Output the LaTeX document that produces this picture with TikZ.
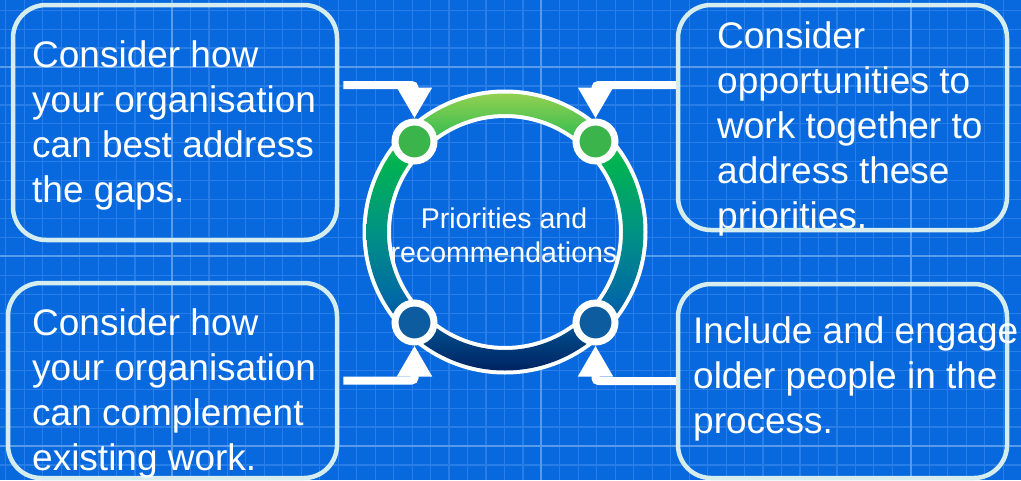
\documentclass[tikz,border=0pt]{standalone}
\usepackage{fontspec}
\setmainfont{Liberation Sans}
\usetikzlibrary{arrows.meta}

\definecolor{bgblue}{RGB}{8,104,221}
\definecolor{gridminor}{RGB}{40,126,230}
\definecolor{gridmajor}{RGB}{88,154,236}
\definecolor{boxline}{RGB}{214,237,240}
\definecolor{ringnavy}{RGB}{0,34,98}
\definecolor{ringblue}{RGB}{0,104,166}
\definecolor{ringteal}{RGB}{0,146,132}
\definecolor{ringgreen}{RGB}{0,178,82}
\definecolor{ringlight}{RGB}{146,208,80}
\definecolor{dotgreen}{RGB}{60,180,76}
\definecolor{dotblue}{RGB}{14,92,160}

\pgfdeclareverticalshading{ringshade}{100bp}{color(0bp)=(ringnavy); color(25bp)=(ringnavy); color(37.5bp)=(ringblue); color(50bp)=(ringteal); color(62.5bp)=(ringgreen); color(75bp)=(ringlight); color(100bp)=(ringlight)}

\begin{document}
\begin{tikzpicture}[x=1pt,y=-1pt,
  card/.style={draw=boxline, line width=4.5pt, rounded corners=33pt},
  cardtext/.style={text=white, font=\fontsize{37}{45}\selectfont, align=left, anchor=base west, inner sep=0pt},
  dot/.style={circle, draw=white, line width=7pt, minimum size=39pt, inner sep=0pt},
  conn/.style={draw=white, line width=8pt, rounded corners=3pt, -{Triangle[length=31pt,width=33pt]}}]
\useasboundingbox (0,0) rectangle (1021,480);
\fill[bgblue] (0,0) rectangle (1021,480);
% grid
\foreach \i in {-9,...,46}
  \draw[gridminor, line width=1.2pt] (172+18.47*\i,0) -- (172+18.47*\i,480);
\foreach \i in {-3,...,21}
  \draw[gridminor, line width=1.2pt] (0,67+18.95*\i) -- (1021,67+18.95*\i);
\foreach \x in {172,541,911}
  \draw[gridmajor, line width=2pt] (\x,0) -- (\x,480);
\foreach \y in {67,256,446}
  \draw[gridmajor, line width=2pt] (0,\y) -- (1021,\y);
% ring
\coordinate (ringc) at (505,232);
\fill[white, even odd rule] (ringc) circle (142.5) (ringc) circle (114);
\shade[shading=ringshade, even odd rule] (ringc) circle (138.5) (ringc) circle (118);
\node[text=white, font=\fontsize{28.5}{34}\selectfont, align=center, anchor=base, inner sep=0pt] (prio) at (504,262) {Priorities and\\recommendations};
\node[dot, fill=dotgreen] (ccTL) at (414.5,141.5) {};
\node[dot, fill=dotgreen] (ccTR) at (595.5,141.5) {};
\node[dot, fill=dotblue] (ccBL) at (414.5,322.5) {};
\node[dot, fill=dotblue] (ccBR) at (595.5,322.5) {};
% boxes
\node[card, minimum width=324pt, minimum height=235pt] (tl) at (175,122.5) {};
\node[card, minimum width=329pt, minimum height=225pt] (tr) at (842.5,117.5) {};
\node[card, minimum width=329pt, minimum height=195pt] (bl) at (172.5,380.5) {};
\node[card, minimum width=329pt, minimum height=194pt] (br) at (842.5,381) {};
% text, placed at the last baseline
\node[cardtext] (tltext) at (32,202) {Consider how\\your organisation\\can best address\\the gaps.};
\node[cardtext] (trtext) at (717,228) {Consider\\opportunities to\\work together to\\address these\\priorities.};
\node[cardtext] (bltext) at (32,470) {Consider how\\your organisation\\can complement\\existing work.};
\node[cardtext] (brtext) at (693,433) {Include and engage\\older people in the\\process.};
% connectors
\draw[conn] ([shift={(4,-37.5)}]tl.east) -| (ccTL.north);
\draw[conn] ([shift={(0,-32.5)}]tr.west) -| (ccTR.north);
\draw[conn] ([xshift=4pt]bl.east) -| (ccBL.south);
\draw[conn] (br.west) -| (ccBR.south);
\end{tikzpicture}
\end{document}
